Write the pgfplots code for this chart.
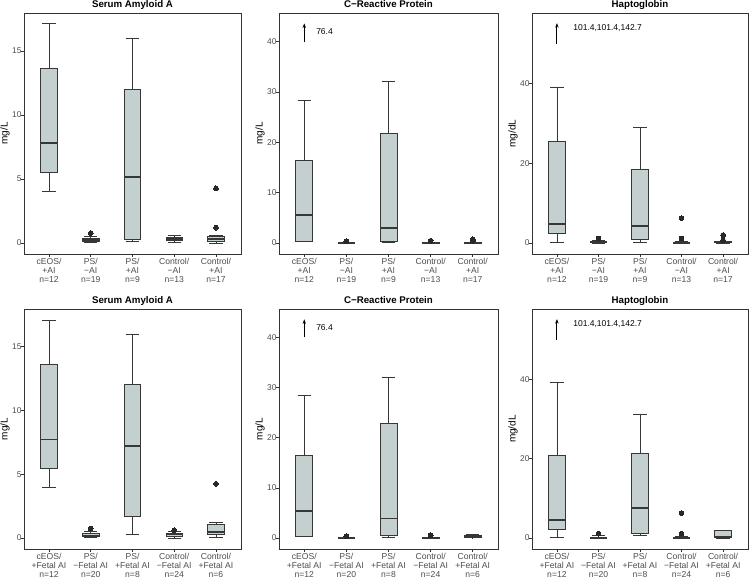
\documentclass[border=0pt]{standalone}
\usepackage{pgfplots}
\pgfplotsset{compat=1.18}
\usepgfplotslibrary{statistics}
\usetikzlibrary{arrows.meta}
\usepackage{fontspec}
\setmainfont{Liberation Sans}
\definecolor{boxfill}{RGB}{196,207,207}
\definecolor{boxline}{RGB}{55,55,55}
\definecolor{frame}{RGB}{51,51,51}
\definecolor{ticktext}{RGB}{77,77,77}
\definecolor{outc}{RGB}{40,40,40}
\pgfplotsset{
  boxplot/draw/median/.code={\draw[line width=1.8pt] (boxplot box cs:\pgfplotsboxplotvalue{median},0) -- (boxplot box cs:\pgfplotsboxplotvalue{median},1);},
}
% whisker caps are drawn as horizontal-line marks at the whisker ends
\newcommand{\bx}[6]{\addplot[only marks, mark=-, mark size=6.2pt, mark options={draw=boxline, line width=0.75pt}] coordinates {(#1,#2) (#1,#6)};
\addplot[boxstyle, boxplot prepared={draw direction=y, draw position=#1, lower whisker=#2, lower quartile=#3, median=#4, upper quartile=#5, upper whisker=#6, box extend=0.4}] coordinates {};}
\newcommand{\bxo}[7]{\addplot[only marks, mark=-, mark size=6.2pt, mark options={draw=boxline, line width=0.75pt}] coordinates {(#1,#2) (#1,#6)};
\addplot[boxstyle, boxplot prepared={draw direction=y, draw position=#1, lower whisker=#2, lower quartile=#3, median=#4, upper quartile=#5, upper whisker=#6, box extend=0.4}] table[row sep=\\, y index=0] {#7};}
\pgfplotsset{
  boxstyle/.style={draw=boxline, fill=boxfill, line width=0.75pt, solid,
    mark=*, mark size=2.4pt, mark options={draw=outc, fill=outc, line width=0pt}},
  panel/.style={
    scale only axis, width=217pt,
    xmin=0.4, xmax=5.6, xtick={1,2,3,4,5},
    axis line style={draw=frame, line width=0.7pt},
    tick style={draw=frame, line width=0.6pt},
    tick align=outside, major tick length=2.75pt,
    xtick pos=lower, ytick pos=left,
    /pgf/number format/assume math mode=true,
    yticklabel style={font=\fontsize{8.4}{9}\selectfont, text=ticktext, inner sep=0pt, xshift=0.5pt},
    xticklabel style={font=\fontsize{8.6}{8.8}\selectfont, text=ticktext, align=center, inner sep=0pt, anchor=north, yshift=-1.5pt},
    every axis title shift=0pt,
    title style={font=\bfseries\fontsize{9.7}{11}\selectfont, at={(0.5,1)}, anchor=base, yshift=5pt},
    ylabel style={font=\fontsize{6.5}{8}\selectfont},
    every axis y label/.style={at={([xshift=-19pt]axis description cs:0,0.5)}, rotate=90, anchor=center},
    clip=false,
  },
  saa/.style={ymin=-0.855, ymax=17.955, ytick={0,5,10,15}, title={Serum Amyloid A}, ylabel={mg/L}},
  crp/.style={ymin=-2.175, ymax=45.675, ytick={0,10,20,30,40}, title={C−Reactive Protein}, ylabel={mg/L}},
  hap/.style={ymin=-2.75, ymax=57.75, ytick={0,20,40}, title={Haptoglobin}, ylabel={mg/dL}},
  rowA/.style={height=241pt, xticklabels={{cEOS/\\+AI\\n=12},{PS/\\−AI\\n=19},{PS/\\+AI\\n=9},{Control/\\−AI\\n=13},{Control/\\+AI\\n=17}}},
  rowB/.style={height=240pt, xticklabels={{cEOS/\\+Fetal AI\\n=12},{PS/\\−Fetal AI\\n=20},{PS/\\+Fetal AI\\n=8},{Control/\\−Fetal AI\\n=24},{Control/\\+Fetal AI\\n=6}}},
}
\begin{document}
\begin{tikzpicture}[x=1pt,y=1pt]
\path[use as bounding box] (0,0) rectangle (750,579);
% ---------- Row 1 ----------
\begin{axis}[panel, saa, rowA, at={(24pt,325pt)}, anchor=south west]
\bx{1}{4.01}{5.51}{7.78}{13.65}{17.11}
\bxo{2}{0.02}{0.1}{0.22}{0.38}{0.5}{v\\0.78\\}
\bx{3}{0.13}{0.31}{5.15}{11.97}{15.94}
\bx{4}{0.08}{0.18}{0.3}{0.42}{0.62}
\bxo{5}{0.0}{0.16}{0.34}{0.52}{0.62}{v\\1.2\\4.27\\}
\end{axis}
\begin{axis}[panel, crp, rowA, width=219pt, at={(279pt,325pt)}, anchor=south west]
\bx{1}{0.27}{0.4}{5.49}{16.4}{28.4}
\bxo{2}{0}{0.02}{0.05}{0.1}{0.2}{v\\0.35\\}
\bx{3}{0.1}{0.27}{3.05}{21.7}{32.15}
\bxo{4}{0}{0.02}{0.05}{0.12}{0.2}{v\\0.45\\}
\bxo{5}{0}{0.02}{0.05}{0.1}{0.2}{v\\0.45\\0.75\\}
\addplot[black, line width=0.9pt, -{Stealth[length=4.5pt,width=3.5pt]}] coordinates {(1,40) (1,43.6)};
\node[anchor=west, font=\fontsize{8.5}{10}\selectfont, inner sep=0pt] at (axis cs:1.28,41.9) {76.4};
\end{axis}
\begin{axis}[panel, hap, rowA, width=216pt, at={(532pt,325pt)}, anchor=south west]
\bx{1}{0.25}{2.35}{4.7}{25.6}{39.2}
\bxo{2}{0}{0.05}{0.15}{0.3}{0.6}{v\\1.1\\}
\bx{3}{0.17}{0.93}{4.27}{18.6}{29.07}
\bxo{4}{0}{0.02}{0.1}{0.2}{0.35}{v\\1.1\\6.27\\}
\bxo{5}{0}{0.05}{0.15}{0.3}{0.5}{v\\0.7\\2.0\\}
\addplot[black, line width=0.9pt, -{Stealth[length=4.5pt,width=3.5pt]}] coordinates {(1,50) (1,55.2)};
\node[anchor=west, font=\fontsize{8.5}{10}\selectfont, inner sep=0pt] at (axis cs:1.39,54) {101.4,101.4,142.7};
\end{axis}
% ---------- Row 2 ----------
\begin{axis}[panel, saa, rowB, at={(24pt,30pt)}, anchor=south west]
\bx{1}{4.0}{5.5}{7.73}{13.63}{17.08}
\bxo{2}{0.02}{0.1}{0.2}{0.38}{0.5}{v\\0.75\\}
\bx{3}{0.28}{1.71}{7.19}{12.04}{15.94}
\bxo{4}{0}{0.15}{0.28}{0.4}{0.55}{v\\0.62\\}
\bxo{5}{0.08}{0.26}{0.47}{1.04}{1.22}{v\\4.25\\}
\end{axis}
\begin{axis}[panel, crp, rowB, width=219pt, at={(279pt,30pt)}, anchor=south west]
\bx{1}{0.27}{0.4}{5.47}{16.4}{28.4}
\bxo{2}{0}{0.02}{0.05}{0.1}{0.2}{v\\0.35\\}
\bx{3}{0.1}{0.5}{3.9}{22.9}{32.1}
\bxo{4}{0}{0.02}{0.05}{0.12}{0.2}{v\\0.55\\}
\bx{5}{0.05}{0.1}{0.3}{0.55}{0.65}
\addplot[black, line width=0.9pt, -{Stealth[length=4.5pt,width=3.5pt]}] coordinates {(1,40) (1,43.6)};
\node[anchor=west, font=\fontsize{8.5}{10}\selectfont, inner sep=0pt] at (axis cs:1.28,41.9) {76.4};
\end{axis}
\begin{axis}[panel, hap, rowB, width=216pt, at={(532pt,30pt)}, anchor=south west]
\bx{1}{0.25}{2.3}{4.6}{20.9}{39.3}
\bxo{2}{0}{0.05}{0.15}{0.3}{0.6}{v\\1.1\\}
\bx{3}{0.67}{1.25}{7.6}{21.3}{31.3}
\bxo{4}{0}{0.02}{0.1}{0.2}{0.35}{v\\1.1\\6.3\\}
\bx{5}{0}{0.1}{0.25}{1.9}{2.0}
\addplot[black, line width=0.9pt, -{Stealth[length=4.5pt,width=3.5pt]}] coordinates {(1,50) (1,55.2)};
\node[anchor=west, font=\fontsize{8.5}{10}\selectfont, inner sep=0pt] at (axis cs:1.39,54) {101.4,101.4,142.7};
\end{axis}
\end{tikzpicture}
\end{document}
